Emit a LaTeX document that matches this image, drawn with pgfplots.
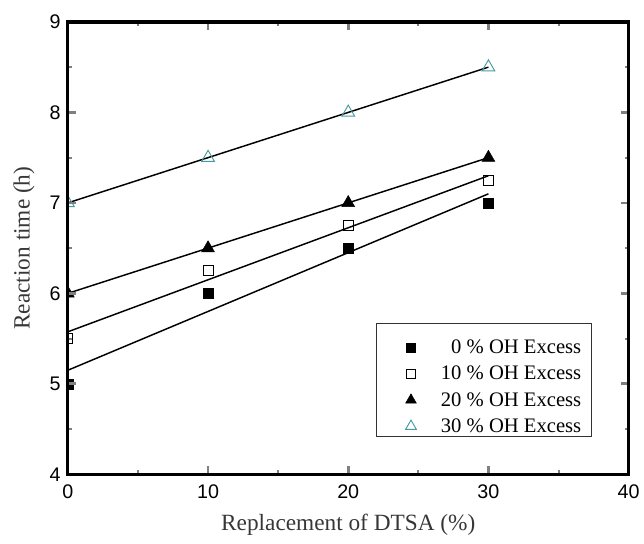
\documentclass[border=0pt]{standalone}
\usepackage{pgfplots}
\pgfplotsset{compat=1.18}
\usepackage{fontspec}
\setmainfont{Liberation Serif}
\newfontfamily\arial{Liberation Sans}
\definecolor{tealmark}{RGB}{70,155,160}
\definecolor{labelgray}{RGB}{55,55,55}
\begin{document}
\begin{tikzpicture}
\begin{axis}[
  width=421.5pt, height=340pt, scale only axis,
  xmin=0, xmax=40, ymin=4, ymax=9,
  xtick={0,10,20,30,40}, ytick={4,5,6,7,8,9},
  minor xtick={5,15,25,35}, minor ytick={4.5,5.5,6.5,7.5,8.5},
  tick align=inside,
  major tick length=6pt, minor tick length=3pt,
  every major tick/.style={line width=2pt},
  every minor tick/.style={line width=1.5pt},
  axis line style={line width=2.4pt},
  ticklabel style={font=\arial\fontsize{14.8}{16}\selectfont},
  /pgf/number format/assume math mode=true,
  xticklabel style={yshift=-4pt},
  yticklabel style={xshift=-2pt},
  xlabel={Replacement of DTSA (\%)},
  ylabel={Reaction time (h)},
  every axis x label/.style={at={(axis description cs:0.5,-0.112)}, anchor=center,
    font=\fontsize{17.5}{19}\selectfont, text=labelgray},
  every axis y label/.style={at={(axis description cs:-0.078,0.5)}, rotate=90, anchor=center,
    font=\fontsize{17.5}{19}\selectfont, text=labelgray},
  axis on top,
  clip marker paths=true,
  legend style={at={(axis cs:21.99,5.667)}, anchor=north west,
    draw=none, fill=none,
    font=\fontsize{15.5}{18}\selectfont,
    inner xsep=0pt, inner ysep=10.5pt, row sep=4.7pt,
    nodes={inner xsep=0pt, inner ysep=0pt, text height=12pt, text depth=3pt}},
  legend cell align=right,
  legend image code/.code={
    \path[draw=none] (0pt,0pt) -- (48.5pt,0pt);
    \draw[#1, every mark/.append style={scale=0.85}] plot coordinates {(26pt,0pt)};
  },
]
% fitted lines
\addplot[black, line width=1.1pt, forget plot] coordinates {(0,5.15) (30,7.1)};
\addplot[black, line width=1.1pt, forget plot] coordinates {(0,5.575) (30,7.3)};
\addplot[black, line width=1.1pt, forget plot] coordinates {(0,6) (30,7.5)};
\addplot[black, line width=1.1pt, forget plot] coordinates {(0,7) (30,8.5)};
% data
\addplot[only marks, mark=square*, mark size=3.75pt, black] coordinates {(0,5) (10,6) (20,6.5) (30,7)};
\addlegendentry{0 \% OH Excess}
\addplot[only marks, mark=square, mark size=3.75pt, black, mark options={fill=white, line width=0.7pt}] coordinates {(0,5.5) (10,6.25) (20,6.75) (30,7.25)};
\addlegendentry{10 \% OH Excess}
\addplot[only marks, mark=triangle*, mark size=5.5pt, black] coordinates {(0,6) (10,6.5) (20,7) (30,7.5)};
\addlegendentry{20 \% OH Excess}
\addplot[only marks, mark=triangle, mark size=5.5pt, tealmark, mark options={line width=0.7pt}] coordinates {(0,7) (10,7.5) (20,8) (30,8.5)};
\addlegendentry{30 \% OH Excess}
% legend frame
\draw[black!80, line width=0.75pt] (axis cs:21.99,5.667) rectangle (axis cs:37.37,4.42);
\end{axis}
\path (current axis.south west) ++(-51pt,-51.75pt);
\path (current axis.north east) ++(10.5pt,16.5pt);
\end{tikzpicture}
\end{document}
